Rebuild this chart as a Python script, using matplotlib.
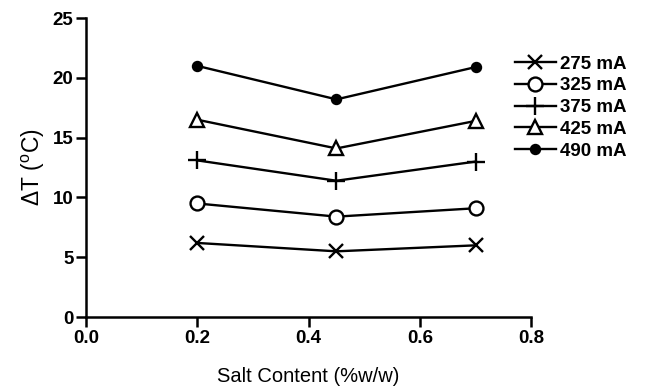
import matplotlib
matplotlib.use("Agg")
import matplotlib.pyplot as plt

plt.rcParams['font.family'] = ['Liberation Sans', 'DejaVu Sans']
plt.rcParams['mathtext.fontset'] = 'custom'
plt.rcParams['mathtext.rm'] = 'Liberation Sans'

# data
salt = [0.2, 0.45, 0.7]
dt_275 = [6.2, 5.5, 6.0]
dt_325 = [9.5, 8.4, 9.1]
dt_375 = [13.1, 11.4, 13.0]
dt_425 = [16.5, 14.1, 16.4]
dt_490 = [21.0, 18.2, 20.9]
labels = ["275 mA", "325 mA", "375 mA", "425 mA", "490 mA"]

fig = plt.figure(figsize=(6.49, 3.92), dpi=100)
ax = fig.add_axes([0.1325, 0.191, 0.686, 0.763])

style = dict(color='black', linewidth=1.7, markeredgewidth=1.7)
ax.plot(salt, dt_275, marker='x', markersize=10, label=labels[0], **style)
ax.plot(salt, dt_325, marker='o', markersize=10, markerfacecolor='white', label=labels[1], **style)
ax.plot(salt, dt_375, marker='+', markersize=13, label=labels[2], **style)
ax.plot(salt, dt_425, marker='^', markersize=10, markerfacecolor='white', label=labels[3], **style)
ax.plot(salt, dt_490, marker='o', markersize=6.5, label=labels[4], **style)

ax.set_xlim(0, 0.8)
ax.set_ylim(0, 25)
ax.set_xticks([0.0, 0.2, 0.4, 0.6, 0.8])
ax.set_yticks([0, 5, 10, 15, 20, 25])
ax.set_xticklabels(["0.0", "0.2", "0.4", "0.6", "0.8"])

for side in ['top', 'right']:
    ax.spines[side].set_visible(False)
for side in ['left', 'bottom']:
    ax.spines[side].set_linewidth(1.8)
ax.tick_params(direction='out', length=7, width=1.8, labelsize=13.5, pad=2)
for lbl in ax.get_xticklabels() + ax.get_yticklabels():
    lbl.set_fontweight('bold')

ax.set_xlabel("Salt Content (%w/w)", fontsize=14.5, labelpad=15)
ax.set_ylabel("ΔT ($^\\mathrm{o}$C)", fontsize=16.5, labelpad=4)

leg = ax.legend(loc='upper left', bbox_to_anchor=(0.946, 0.9), frameon=False,
                fontsize=13.5, handlelength=2.2, handletextpad=0.2,
                labelspacing=0.25, borderaxespad=0.0)
for t in leg.get_texts():
    t.set_fontweight('bold')

fig.savefig("out.png", dpi=100)
